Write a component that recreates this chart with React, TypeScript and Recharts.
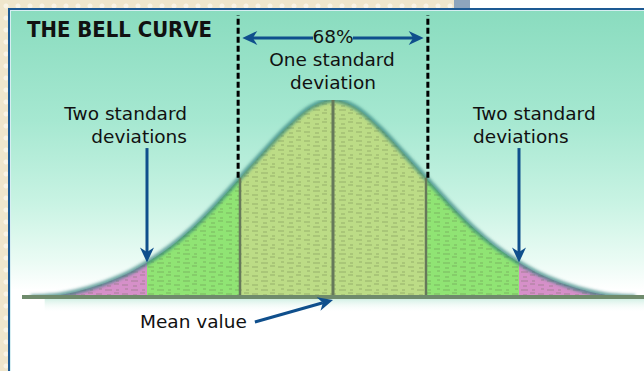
import React from 'react';
import { Area, ComposedChart, Line, ReferenceArea, ReferenceLine, XAxis, YAxis } from 'recharts';

// distance from the mean, in standard deviations
const sdSteps = [
  -3.25, -3, -2.75, -2.5, -2.25, -2, -1.75, -1.5, -1.25, -1, -0.75, -0.5, -0.25, 0,
  0.25, 0.5, 0.75, 1, 1.25, 1.5, 1.75, 2, 2.25, 2.5, 2.75, 3, 3.25,
];
// curve height, as a percent of the peak
const heights = [
  0, 0.6, 2.8, 6.3, 11, 17.5, 25.5, 35.5, 47.5, 60.5, 73.5, 86, 96, 100,
  96, 86, 73.5, 60.5, 47.5, 35.5, 25.5, 17.5, 11, 6.3, 2.8, 0.6, 0,
];
const dividers = [-1, 0, 1];
const oneSd = [-1, 1];
const twoSd = [-2, 2];

const rows = sdSteps.map((x, i) => {
  const h = heights[i];
  const a = Math.abs(x);
  return {
    x,
    h,
    tail: a >= 2 ? h : null,
    mid: a >= 1 && a <= 2 ? h : null,
    core: a <= 1 ? h : null,
  };
});

const heightAt = (x: number) => heights[sdSteps.indexOf(x)];

const BLUE = '#0f4f8c';

function Arrow(props: any) {
  const { x1, y1, x2, y2 } = props;
  const dx = x2 - x1;
  const dy = y2 - y1;
  const len = Math.sqrt(dx * dx + dy * dy) || 1;
  const ux = dx / len;
  const uy = dy / len;
  const head = 15;
  const half = 7;
  const bx = x2 - ux * head;
  const by = y2 - uy * head;
  const nx = x2 - ux * head * 0.7;
  const ny = y2 - uy * head * 0.7;
  const pts = [
    `${x2},${y2}`,
    `${bx - uy * half},${by + ux * half}`,
    `${nx},${ny}`,
    `${bx + uy * half},${by - ux * half}`,
  ].join(' ');
  return (
    <g>
      <line x1={x1} y1={y1} x2={nx} y2={ny} stroke={BLUE} strokeWidth={3} />
      <polygon points={pts} fill={BLUE} />
    </g>
  );
}

const labelFont = '"DejaVu Sans", Verdana, sans-serif';

export default function App() {
  return (
    <div style={{ position: 'absolute', left: 0, top: 0, width: 644, height: 371, overflow: 'hidden', background: '#efe6cc' }}>
      <svg width={0} height={0} style={{ position: 'absolute' }}>
        <defs>
          <pattern id="scan" width="26" height="9" patternUnits="userSpaceOnUse">
            <path d="M1 2h7M12 2h3M18 6h6M3 7h4M10 5h5M21 1h3" stroke="#4e5e36" strokeWidth="1" opacity="0.35" />
          </pattern>
          <linearGradient id="glow" x1="0" y1="0" x2="0" y2="1">
            <stop offset="0%" stopColor="#bfe9d9" stopOpacity="0.9" />
            <stop offset="100%" stopColor="#ffffff" stopOpacity="0" />
          </linearGradient>
          <filter id="soft" x="-5%" y="-5%" width="110%" height="110%">
            <feGaussianBlur stdDeviation="1.4" />
          </filter>
        </defs>
      </svg>
      <div
        style={{
          position: 'absolute', inset: 0,
          backgroundImage: 'radial-gradient(circle, #f9f4e6 2px, transparent 3px)',
          backgroundSize: '12px 12px',
        }}
      />
      <div style={{ position: 'absolute', left: 454, top: 0, width: 16, height: 8, background: '#8da5bd' }} />
      <div style={{ position: 'absolute', left: 470, top: 0, width: 174, height: 8, background: '#ffffff' }} />
      <div
        style={{
          position: 'absolute', left: 8, top: 8, width: 640, height: 370,
          borderTop: '2px solid #1d5a94', borderLeft: '2px solid #1d5a94',
          boxSizing: 'border-box',
        }}
      >
        <div
          style={{
            position: 'absolute', inset: 0, borderTop: '1px solid #d6eef2', borderLeft: '1px solid #d6eef2',
            background: 'linear-gradient(to bottom, #8adcbf 0%, #a6e8d1 30%, #c8f3e3 52%, #eafbf4 68%, #ffffff 76%, #ffffff 100%)',
          }}
        />
      </div>

      <div style={{ position: 'absolute', left: 0, top: 0 }}>
        <ComposedChart width={644} height={371} data={rows} margin={{ top: 100, right: 0, bottom: 74, left: 22 }}>
          <XAxis type="number" dataKey="x" domain={[-3.344, 3.344]} allowDataOverflow hide />
          <YAxis type="number" domain={[0, 100]} allowDataOverflow hide />
          <ReferenceArea x1={-3.1} x2={3.344} y1={-8} y2={0} fill="url(#glow)" fillOpacity={1} stroke="none" ifOverflow="visible" />
          <Line dataKey="h" type="monotone" stroke="#2f7f7a" strokeOpacity={0.7} strokeWidth={5} dot={false} filter="url(#soft)" isAnimationActive={false} />
          <Area dataKey="tail" type="monotone" stroke="none" fill="#d690c9" fillOpacity={1} isAnimationActive={false} />
          <Area dataKey="mid" type="monotone" stroke="none" fill="#90e474" fillOpacity={1} isAnimationActive={false} />
          <Area dataKey="core" type="monotone" stroke="none" fill="#bcdc86" fillOpacity={1} isAnimationActive={false} />
          <Area dataKey="h" type="monotone" stroke="none" fill="url(#scan)" fillOpacity={1} isAnimationActive={false} />
          {dividers.map((x) => (
            <ReferenceLine
              key={`d${x}`}
              segment={[{ x, y: 0 }, { x, y: heightAt(x) }]}
              stroke="#66795a"
              strokeWidth={x === 0 ? 3 : 2.5}
              ifOverflow="visible"
            />
          ))}
          <ReferenceLine y={0} stroke="#6f8b6c" strokeWidth={4} ifOverflow="visible" />
          {oneSd.map((x) => (
            <ReferenceLine
              key={`s${x}`}
              segment={[{ x: x * 1.02, y: heightAt(x) }, { x: x * 1.02, y: 143 }]}
              stroke="#000"
              strokeWidth={3}
              strokeDasharray="6 3"
              ifOverflow="visible"
            />
          ))}
          {oneSd.map((x) => (
            <ReferenceLine
              key={`h${x}`}
              segment={[{ x: x * 0.215, y: 131.5 }, { x: x * 0.975, y: 131.5 }]}
              shape={Arrow}
              ifOverflow="visible"
            />
          ))}
          {twoSd.map((x) => (
            <ReferenceLine
              key={`t${x}`}
              segment={[{ x, y: 75.6 }, { x, y: heightAt(x) }]}
              shape={Arrow}
              ifOverflow="visible"
            />
          ))}
          <ReferenceLine
            segment={[{ x: -0.84, y: -12.7 }, { x: 0, y: -1.5 }]}
            shape={Arrow}
            ifOverflow="visible"
          />
        </ComposedChart>
      </div>

      <svg width={644} height={371} style={{ position: 'absolute', left: 0, top: 0, pointerEvents: 'none' }}>
        <text x={27} y={37} fontFamily={labelFont} fontWeight="bold" fontSize={21} fill="#111" textLength={185} lengthAdjust="spacingAndGlyphs">
          THE BELL CURVE
        </text>
        <g fontFamily={labelFont} fontSize={18.5} fill="#111">
          <text x={333} y={43} textAnchor="middle">68%</text>
          <text x={332} y={66} textAnchor="middle">One standard</text>
          <text x={333} y={89} textAnchor="middle">deviation</text>
          <text x={187} y={120} textAnchor="end">Two standard</text>
          <text x={187} y={143} textAnchor="end">deviations</text>
          <text x={473} y={120}>Two standard</text>
          <text x={473} y={143}>deviations</text>
          <text x={140} y={328}>Mean value</text>
        </g>
      </svg>
    </div>
  );
}
